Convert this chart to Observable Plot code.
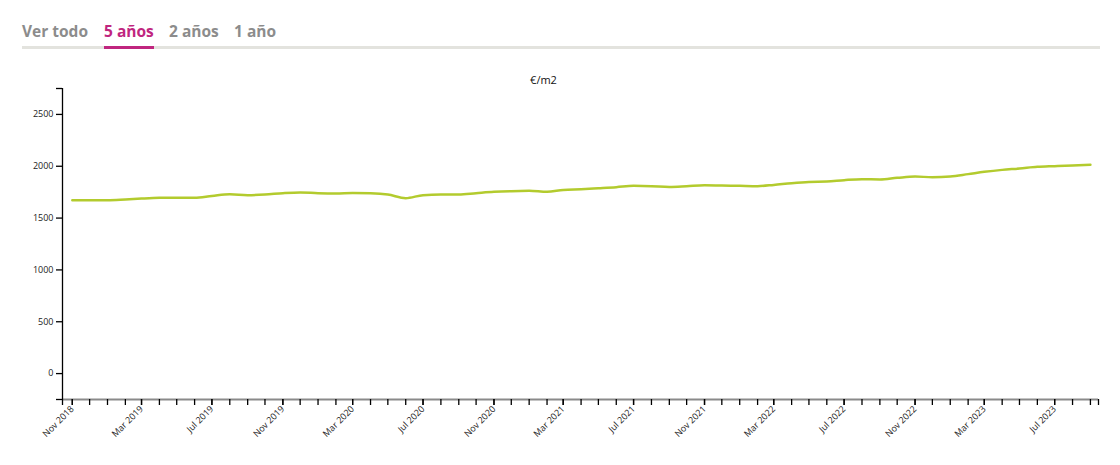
<!DOCTYPE html>
<html>
<head>
<meta charset="utf-8">
<script src="https://cdn.jsdelivr.net/npm/d3@7"></script>
<script src="https://cdn.jsdelivr.net/npm/@observablehq/plot@0.6"></script>
<style>
  html, body { margin: 0; padding: 0; background: #fff; }
  body { width: 1120px; height: 465px; position: relative; overflow: hidden; font-family: "Open Sans", sans-serif; }
  .tabs { position: absolute; left: 0; top: 0; width: 1120px; height: 60px; }
  .tab { position: absolute; top: 20px; font-size: 15.5px; font-weight: 700; color: #8c8c8c; line-height: 22px; white-space: nowrap; }
  .tab.active { color: #c0267f; }
  .bar { position: absolute; left: 22px; top: 46px; width: 1078px; height: 3px; background: #e3e3de; }
  .underline { position: absolute; left: 104px; top: 46px; width: 50px; height: 3px; background: #c0267f; }
  #chart { position: absolute; left: 0; top: 60px; }
</style>
</head>
<body>
<div class="tabs" id="tabs"></div>
<div id="chart"></div>
<script>
// ---- data ----
const tabLabels = ["Ver todo", "5 años", "2 años", "1 año"];
const activeTab = "5 años";
const unitTitle = "€/m2";

const months = [
  "2018-11","2018-12",
  "2019-01","2019-02","2019-03","2019-04","2019-05","2019-06","2019-07","2019-08","2019-09","2019-10","2019-11","2019-12",
  "2020-01","2020-02","2020-03","2020-04","2020-05","2020-06","2020-07","2020-08","2020-09","2020-10","2020-11","2020-12",
  "2021-01","2021-02","2021-03","2021-04","2021-05","2021-06","2021-07","2021-08","2021-09","2021-10","2021-11","2021-12",
  "2022-01","2022-02","2022-03","2022-04","2022-05","2022-06","2022-07","2022-08","2022-09","2022-10","2022-11","2022-12",
  "2023-01","2023-02","2023-03","2023-04","2023-05","2023-06","2023-07","2023-08","2023-09"
];
const prices = [
  1672, 1673,
  1673, 1680, 1688, 1695, 1697, 1697, 1714, 1730, 1721, 1727, 1740, 1747,
  1740, 1737, 1743, 1740, 1727, 1692, 1721, 1727, 1727, 1740, 1753, 1760,
  1763, 1753, 1772, 1779, 1788, 1798, 1811, 1808, 1801, 1808, 1817, 1814,
  1811, 1808, 1820, 1837, 1849, 1853, 1866, 1875, 1872, 1888, 1901, 1894,
  1901, 1924, 1946, 1965, 1978, 1994, 2001, 2008, 2014
];
const xLabelMonths = ["2018-11","2019-03","2019-07","2019-11","2020-03","2020-07","2020-11","2021-03","2021-07","2021-11","2022-03","2022-07","2022-11","2023-03","2023-07"];
const yTicks = [0, 500, 1000, 1500, 2000, 2500];
const xDomain = ["2018-10-15", "2023-09-15"];
const yDomain = [-250, 2750];

// ---- tabs ----
const tabLeft = [22, 104, 169, 234];
const tabsEl = document.getElementById("tabs");
tabLabels.forEach((t, i) => {
  const d = document.createElement("div");
  d.className = "tab" + (t === activeTab ? " active" : "");
  d.style.left = tabLeft[i] + "px";
  d.textContent = t;
  tabsEl.appendChild(d);
});
const bar = document.createElement("div"); bar.className = "bar"; tabsEl.appendChild(bar);
const ul = document.createElement("div"); ul.className = "underline"; tabsEl.appendChild(ul);

// ---- chart ----
const parse = d3.utcParse("%Y-%m");
const parseDay = d3.utcParse("%Y-%m-%d");
const data = months.map((m, i) => ({date: parse(m), value: prices[i]}));
const xd = xDomain.map(parseDay);
const tickMonths = d3.utcMonth.range(xd[0], xd[1]);
const labelDates = xLabelMonths.map(parse);
const fmt = d3.utcFormat("%b %Y");

const chart = Plot.plot({
  width: 1120,
  height: 405,
  marginLeft: 62,
  marginRight: 22,
  marginTop: 28,
  marginBottom: 66,
  style: {fontFamily: "'Open Sans', sans-serif", fontSize: "9px", color: "#222", background: "#fff"},
  x: {type: "utc", domain: xd, label: null},
  y: {domain: yDomain, label: null},
  marks: [
    Plot.ruleY([yDomain[0]], {stroke: "#8a8a8a", strokeWidth: 2}),
    Plot.ruleX([xd[0]], {y1: yDomain[0], y2: yDomain[1], stroke: "#000", strokeWidth: 1.3}),
    Plot.axisY({ticks: yDomain, tickSize: 6, tickFormat: () => "", stroke: "#000", strokeWidth: 1.3, label: null}),
    Plot.axisY({ticks: yTicks, tickSize: 6, tickPadding: 3, tickFormat: d => String(d), fontSize: 9, stroke: "#000", strokeWidth: 1.3, label: null}),
    Plot.axisX({ticks: [...tickMonths, ...xd], tickSize: 6, tickFormat: () => "", stroke: "#000", strokeWidth: 1.3, label: null}),
    Plot.axisX({ticks: labelDates, tickSize: 6, tickPadding: 2, tickRotate: -45, tickFormat: fmt, fontSize: 9, stroke: "#000", strokeWidth: 1.3, label: null}),
    Plot.lineY(data, {x: "date", y: "value", stroke: "#b3cb2e", strokeWidth: 2.5, curve: "monotone-x"}),
    Plot.text([unitTitle], {frameAnchor: "top", dy: -12, dx: -37, fontSize: 11, fill: "#111"})
  ]
});
document.getElementById("chart").appendChild(chart);
</script>
</body>
</html>
